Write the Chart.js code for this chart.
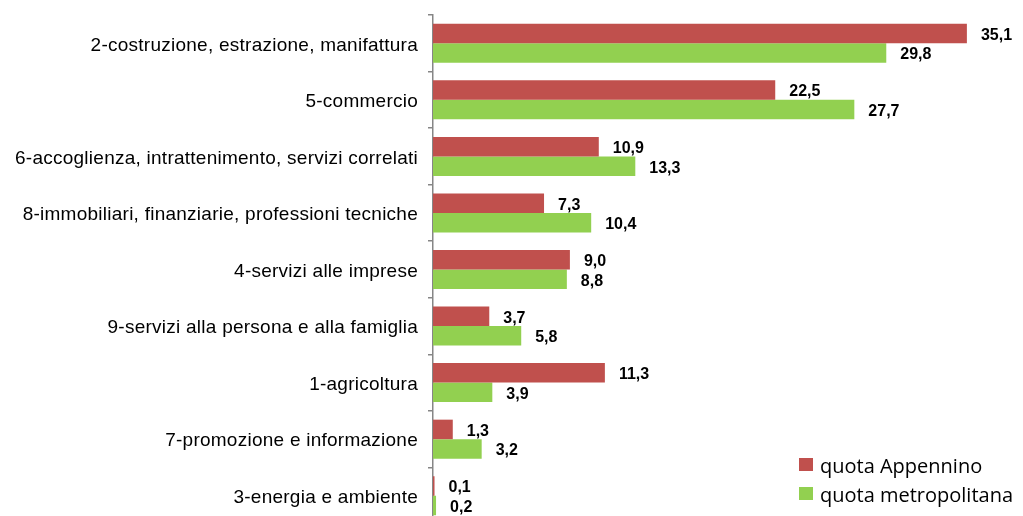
<!DOCTYPE html>
<html><head><meta charset="utf-8">
<script src="https://cdn.jsdelivr.net/npm/chart.js@4"></script>
<style>
html,body{margin:0;padding:0;background:#fff;overflow:hidden;}
canvas{display:block;}
</style></head>
<body><canvas id="c" width="1023" height="530"></canvas>
<script>
const categories = [
  "2-costruzione, estrazione, manifattura",
  "5-commercio",
  "6-accoglienza, intrattenimento, servizi correlati",
  "8-immobiliari, finanziarie, professioni tecniche",
  "4-servizi alle imprese",
  "9-servizi alla persona e alla famiglia",
  "1-agricoltura",
  "7-promozione e informazione",
  "3-energia e ambiente"
];
const seriesNames = ["quota Appennino", "quota metropolitana"];
const appennino = [35.1, 22.5, 10.9, 7.3, 9.0, 3.7, 11.3, 1.3, 0.1];
const metropolitana = [29.8, 27.7, 13.3, 10.4, 8.8, 5.8, 3.9, 3.2, 0.2];
const colors = ["#C0504D", "#92D050"];

const valueLabels = {
  id: 'valueLabels',
  afterDatasetsDraw(chart) {
    const ctx = chart.ctx;
    ctx.save();
    ctx.font = "bold 16px 'Liberation Sans', Arial, sans-serif";
    ctx.fillStyle = "#000";
    ctx.textBaseline = "middle";
    ctx.textAlign = "left";
    chart.data.datasets.forEach((ds, di) => {
      chart.getDatasetMeta(di).data.forEach((bar, i) => {
        const txt = ds.data[i].toFixed(1).replace('.', ',');
        ctx.fillText(txt, bar.x + 14, bar.y + 2);
      });
    });
    ctx.restore();
  }
};

const customLegend = {
  id: 'customLegend',
  afterDraw(chart) {
    const ctx = chart.ctx;
    ctx.save();
    ctx.font = "20px 'Open Sans', 'Liberation Sans', sans-serif";
    ctx.textBaseline = "alphabetic";
    chart.data.datasets.forEach((ds, di) => {
      const y = 465 + di * 29;
      ctx.fillStyle = ds.backgroundColor;
      ctx.fillRect(799, y - 7, 14, 13);
      ctx.fillStyle = "#000";
      ctx.fillText(ds.label, 820, y + 8);
    });
    ctx.restore();
  }
};

const tickSpacing = {
  id: 'tickSpacing',
  beforeDraw(chart) { chart.ctx.letterSpacing = '0.25px'; },
  beforeDatasetsDraw(chart) { chart.ctx.letterSpacing = '0px'; }
};

new Chart(document.getElementById('c'), {
  type: 'bar',
  data: {
    labels: categories,
    datasets: [
      { label: seriesNames[0], data: appennino, backgroundColor: colors[0] },
      { label: seriesNames[1], data: metropolitana, backgroundColor: colors[1] }
    ]
  },
  options: {
    indexAxis: 'y',
    responsive: false,
    animation: false,
    layout: { padding: { top: 15, bottom: 6, left: 0, right: 12 } },
    datasets: { bar: { categoryPercentage: 0.69, barPercentage: 1.0 } },
    plugins: { legend: { display: false }, tooltip: { enabled: false } },
    scales: {
      x: { display: false, min: 0, max: 38 },
      y: {
        afterFit(scale) { scale.width = 433; scale.paddingTop = 0; scale.paddingBottom = 0; },
        border: { display: true, color: '#868686', width: 1.5 },
        grid: { drawOnChartArea: false, offset: true, tickLength: 5, color: '#868686', lineWidth: 1.5 },
        ticks: {
          color: '#000',
          padding: 10,
          labelOffset: 2,
          font: { family: "'Liberation Sans', Arial, sans-serif", size: 19 }
        }
      }
    }
  },
  plugins: [tickSpacing, valueLabels, customLegend]
});
</script></body></html>
